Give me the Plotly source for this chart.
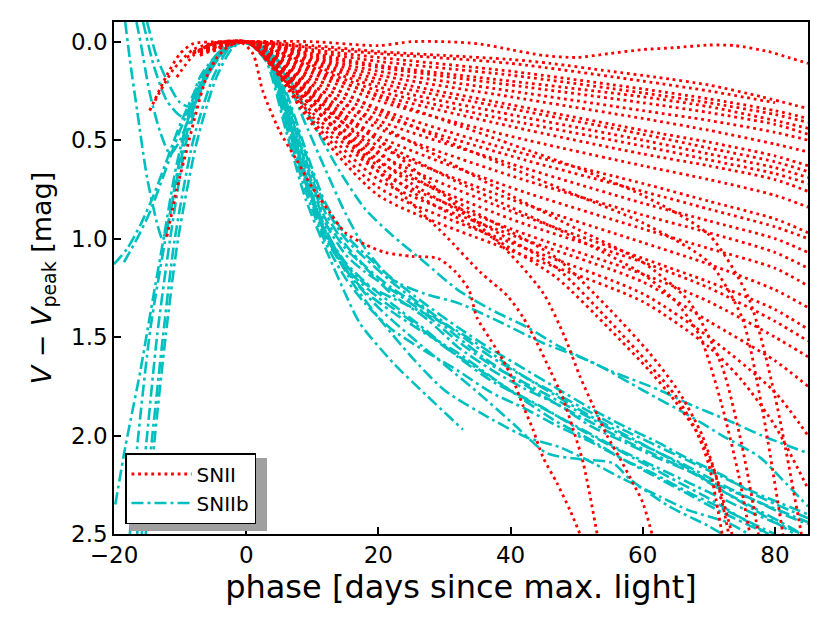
import plotly.graph_objects as go

# ---------------- SNII light curves (phase [d], V - Vpeak [mag]) ----------------
sn2_01 = [(-8,0.06),(-5,0.01),(0,0.0),(10,0.0),(20,0.02),(25,0.0),(30,0.0),(35,0.01),(40,0.04),(45,0.07),(50,0.08),(55,0.06),(60,0.04),(65,0.03),(70,0.017),(74,0.02),(79,0.05),(82,0.08),(85,0.11)]
sn2_02 = [(-6,0.03),(0,0),(10,0.02),(20,0.05),(30,0.07),(40,0.09),(46,0.11),(55,0.15),(62,0.18),(70,0.22),(78,0.28),(85,0.34)]
sn2_03 = [(-5,0.02),(0,0),(4,0.01),(10,0.04),(20,0.08),(40,0.15),(60,0.24),(70,0.29),(80,0.35),(85,0.39)]
sn2_04 = [(-7,0.05),(0,0),(4,0.02),(10,0.06),(20,0.12),(40,0.20),(60,0.28),(70,0.33),(80,0.40),(85,0.44)]
sn2_05 = [(-4,0.01),(0,0),(4,0.02),(10,0.08),(20,0.15),(40,0.25),(60,0.35),(70,0.40),(80,0.46),(85,0.50)]
sn2_06 = [(-6,0.04),(0,0),(4,0.03),(10,0.10),(20,0.19),(40,0.32),(60,0.45),(70,0.51),(80,0.58),(85,0.63)]
sn2_07 = [(-14.6,0.35),(-12,0.17),(-10,0.06),(-8,0.01),(-4,0),(0,0),(4,0.04),(10,0.12),(20,0.23),(40,0.37),(60,0.50),(70,0.57),(80,0.64),(85,0.69)]
sn2_08 = [(-5,0.03),(0,0),(4,0.05),(10,0.15),(20,0.27),(40,0.43),(60,0.57),(70,0.63),(80,0.70),(85,0.76)]
sn2_09 = [(-6,0.03),(0,0),(4,0.05),(10,0.16),(20,0.30),(40,0.48),(60,0.63),(70,0.70),(80,0.78),(85,0.84)]
sn2_10 = [(-4,0.02),(0,0),(4,0.06),(10,0.18),(20,0.34),(40,0.55),(60,0.72),(70,0.81),(80,0.90),(85,0.97)]
sn2_11 = [(-13.8,0.30),(-11,0.14),(-8,0.04),(-4,0),(0,0),(4,0.06),(10,0.20),(20,0.37),(40,0.58),(60,0.76),(70,0.85),(80,0.94),(85,1.00)]
sn2_12 = [(-3,0.01),(0,0),(4,0.07),(10,0.22),(20,0.40),(40,0.62),(60,0.82),(70,0.91),(80,1.00),(85,1.07)]
sn2_13 = [(-6,0.05),(0,0),(4,0.08),(10,0.24),(20,0.44),(40,0.68),(60,0.88),(70,0.97),(80,1.07),(85,1.15)]
sn2_14 = [(-5,0.03),(0,0),(4,0.08),(10,0.26),(20,0.48),(40,0.74),(60,0.95),(70,1.05),(80,1.15),(85,1.24)]
sn2_15 = [(-7,0.06),(0,0),(4,0.09),(10,0.29),(20,0.53),(40,0.80),(60,1.02),(70,1.13),(80,1.26),(85,1.35)]
sn2_16 = [(-4,0.02),(0,0),(4,0.10),(10,0.31),(20,0.57),(40,0.86),(60,1.10),(70,1.22),(80,1.36),(85,1.46)]
sn2_17 = [(-6,0.04),(0,0),(4,0.10),(10,0.33),(20,0.61),(40,0.90),(60,1.12),(70,1.25),(80,1.42),(85,1.52)]
sn2_18 = [(-5,0.02),(0,0),(4,0.11),(10,0.36),(20,0.66),(40,0.95),(60,1.18),(70,1.32),(80,1.50),(85,1.60)]
sn2_19 = [(-10.5,0.18),(-8,0.07),(-5,0.01),(0,0),(4,0.12),(10,0.38),(20,0.70),(40,0.98),(60,1.22),(70,1.42),(80,1.62),(85,1.75)]
sn2_20 = [(-5,0.03),(0,0),(4,0.12),(10,0.40),(20,0.74),(40,1.02),(60,1.28),(70,1.50),(80,1.78),(85,2.00)]
sn2_21 = [(-6,0.04),(0,0),(4,0.13),(10,0.42),(20,0.78),(40,1.06),(60,1.32),(70,1.55),(75,1.72),(80,1.95),(85,2.27)]
sn2_22 = [(-9,0.08),(-5,0.01),(0,0),(4,0.01),(10,0.03),(20,0.06),(40,0.11),(60,0.20),(70,0.25),(80,0.31)]
sn2_23 = [(-3,0.0),(0,0),(4,0.02),(10,0.05),(20,0.10),(40,0.17),(60,0.26),(70,0.31),(80,0.37),(85,0.41)]
sn2_24 = [(-7,0.04),(0,0),(4,0.02),(10,0.07),(20,0.13),(40,0.22),(60,0.31),(70,0.36),(80,0.42),(85,0.47)]
sn2_25 = [(-5,0.02),(0,0),(4,0.03),(10,0.09),(20,0.17),(40,0.28),(60,0.39),(70,0.45),(80,0.52),(85,0.56)]
sn2_26 = [(-8,0.05),(0,0),(4,0.04),(10,0.11),(20,0.21),(40,0.34),(60,0.47),(70,0.54),(80,0.61),(85,0.66)]
sn2_27 = [(-6,0.02),(0,0),(4,0.05),(10,0.13),(20,0.25),(40,0.40),(60,0.53),(70,0.60),(80,0.67),(85,0.72)]
# SNII that fall off the plateau
sn2_a = [(-12,0.99),(-10.5,0.75),(-9,0.55),(-7.5,0.35),(-6,0.18),(-4.4,0.08),(-2.9,0.03),(-1,0),(1,0.06),(2.5,0.25),(5,0.45),(7.6,0.6),(10,0.74),(12.7,0.87),(15,0.97),(18,1.03),(21,1.07),(25,1.09),(29,1.1),(31.7,1.17),(33.7,1.26),(34.9,1.40),(36.9,1.51),(38.9,1.62),(40.4,1.72),(41.9,1.85),(43.4,1.97),(44.9,2.11),(47,2.24),(49,2.38),(50.5,2.5)]
sn2_b = [(-5,0.05),(0,0),(5,0.15),(10,0.33),(15,0.5),(20,0.66),(25,0.82),(30,0.98),(35.4,1.17),(39.5,1.29),(41.9,1.4),(44,1.53),(46,1.67),(47.8,1.8),(49.4,1.96),(51,2.14),(53.1,2.5)]
sn2_c = [(-6,0.04),(0,0),(10,0.25),(20,0.5),(30,0.78),(40,1.08),(45,1.28),(48.2,1.5),(50.5,1.70),(52.5,1.85),(54.6,2.0),(56.6,2.12),(58.5,2.24),(60,2.34),(61.4,2.5)]
sn2_d1 = [(-5,0.03),(0,0),(5,0.15),(10,0.3),(17,0.52),(25,0.72),(37,0.95),(47,1.15),(55,1.42),(61,1.64),(65,1.8),(68,1.97),(70,2.15),(72,2.5)]
sn2_d2 = [(-7,0.07),(0,0),(5,0.17),(10,0.33),(17,0.55),(25,0.76),(37,0.99),(47,1.2),(55,1.46),(61,1.67),(65,1.83),(68.5,2.0),(71,2.2),(73,2.5)]
sn2_d3 = [(-4,0.02),(0,0),(5,0.13),(10,0.27),(17,0.48),(25,0.68),(37,0.91),(47,1.1),(55,1.36),(61,1.58),(65.5,1.78),(69,2.0),(71.5,2.25),(73.5,2.5)]
sn2_e1 = [(-5,0.02),(0,0),(10,0.28),(20,0.5),(30,0.68),(40,0.84),(50,1.0),(60,1.18),(65,1.32),(68.7,1.5),(72,1.85),(74.5,2.2),(76.2,2.5)]
sn2_e2 = [(-6,0.03),(0,0),(10,0.22),(20,0.42),(30,0.6),(40,0.78),(50,0.95),(60,1.12),(67,1.32),(72,1.65),(75,2.05),(77.5,2.5)]
sn2_e3 = [(-4,0.02),(0,0),(10,0.18),(20,0.35),(30,0.5),(40,0.64),(50,0.78),(60,0.92),(70,1.12),(75,1.4),(78,1.85),(81.2,2.5)]
sn2_e4 = [(-5,0.03),(0,0),(10,0.14),(20,0.28),(30,0.4),(40,0.52),(50,0.64),(60,0.78),(70,0.98),(76,1.3),(80,1.8),(84,2.5)]

# ---------------- SNIIb light curves ----------------
sn2b_01 = [(-19.8,2.35),(-18.3,2.06),(-16,1.67),(-14.5,1.38),(-12.5,1.0),(-10.5,0.62),(-8,0.3),(-5,0.1),(-2,0.01),(0,0),(3,0.05),(6,0.3),(9,0.62),(12,0.9),(15,1.05),(17.2,1.12),(22,1.28),(27.4,1.41),(32,1.55),(37.3,1.67),(42,1.76),(47.5,1.85),(52,1.95),(57.6,2.04),(62,2.11),(67.6,2.19),(72,2.26),(77.7,2.34),(85,2.44)]
sn2b_02 = [(-17.6,2.5),(-16.5,2.06),(-14.5,1.46),(-12,0.96),(-9.6,0.52),(-7,0.18),(-3,0.02),(0,0),(3,0.03),(6,0.18),(9,0.42),(12,0.65),(15,0.87),(18,1.05),(22.2,1.21),(27,1.28),(32.3,1.33),(38.8,1.43),(44.9,1.53),(52.5,1.63),(60,1.77),(67.6,1.91),(72,2.0),(77.7,2.11),(81,2.22),(85,2.36)]
sn2b_03 = [(-16.5,2.5),(-15,2.0),(-13.5,1.5),(-11.5,1.0),(-9,0.5),(-6,0.18),(-3,0.03),(0,0),(3,0.06),(6,0.35),(9,0.68),(12,0.96),(15,1.12),(18,1.22),(22,1.33),(27,1.46),(32,1.6),(37,1.72),(42,1.81),(47,1.9),(52,1.99),(57,2.08),(62,2.16),(67,2.24),(72,2.32),(77,2.4),(82,2.47),(84,2.5)]
sn2b_04 = [(-15.8,2.5),(-14.2,2.0),(-12.6,1.5),(-10.8,1.0),(-8,0.5),(-5,0.18),(-2.5,0.03),(0,0),(3,0.04),(6,0.27),(9,0.57),(12,0.84),(15,1.0),(18,1.1),(22,1.22),(27,1.35),(32,1.48),(37,1.6),(42,1.7),(47,1.79),(52,1.88),(57,1.97),(62,2.05),(67,2.13),(72,2.21),(77,2.29),(85,2.40)]
sn2b_05 = [(-15.2,2.5),(-13.8,2.0),(-12.2,1.5),(-10.3,1.0),(-7.4,0.5),(-4.5,0.18),(-2,0.03),(0,0),(3,0.1),(6,0.45),(9,0.8),(12,1.05),(15,1.28),(17.2,1.43),(22.2,1.63),(27.4,1.8),(32.8,1.97)]
sn2b_06 = [(-20,1.13),(-18,1.05),(-16,0.93),(-14,0.78),(-12,0.6),(-10,0.42),(-7,0.2),(-4,0.05),(-1,0),(2,0.02),(5,0.1),(8,0.28),(11,0.47),(14,0.65),(18,0.85),(22,0.98),(27,1.12),(32,1.26),(37,1.36),(42.5,1.45),(47.5,1.55),(55,1.67),(62.6,1.77),(67,1.84),(72.7,1.92),(78,2.0),(85,2.09)]
sn2b_07 = [(-18.5,1.12),(-16.5,1.0),(-14.5,0.86),(-12.5,0.68),(-10,0.45),(-7,0.22),(-4,0.06),(-1,0),(3,0.07),(6,0.4),(9,0.72),(12,0.98),(15,1.15),(18,1.27),(22,1.37),(27,1.48),(32,1.58),(37,1.7),(42,1.82),(47,1.93),(52,2.02),(57,2.12),(62,2.21),(67,2.3),(72,2.39),(77,2.47),(79,2.5)]
sn2b_08 = [(-18.3,-0.1),(-17.6,0.09),(-16.5,0.35),(-15,0.69),(-13.5,0.92),(-12.7,1.0),(-12,0.95),(-10.5,0.7),(-8.5,0.4),(-6,0.15),(-3,0.03),(0,0),(3,0.06),(6,0.35),(9,0.7),(12,0.98),(16,1.22),(20,1.4),(25,1.6),(30,1.77),(37.3,1.92),(42.5,2.01),(47.5,2.06),(52.5,2.14),(57,2.22),(62.6,2.31),(67,2.38),(72.7,2.44),(76,2.5)]
sn2b_09 = [(-16.6,-0.1),(-16,0.0),(-14.6,0.26),(-13,0.46),(-11.5,0.57),(-10,0.5),(-8,0.32),(-6,0.16),(-3,0.03),(0,0),(3,0.05),(6,0.33),(9,0.64),(12,0.92),(15,1.08),(18,1.17),(22,1.26),(27,1.38),(32,1.52),(37,1.64),(42,1.73),(47,1.82),(52,1.91),(57,2.0),(62,2.08),(67,2.16),(72,2.25),(77,2.33),(82,2.41),(85,2.45)]
sn2b_10 = [(-15.6,-0.1),(-14,0.12),(-12,0.30),(-9.7,0.38),(-8,0.33),(-6,0.18),(-3,0.04),(0,0),(3,0.07),(6,0.38),(9,0.72),(12,1.0),(16,1.2),(20,1.35),(25,1.5),(30,1.64),(35,1.78),(40.4,1.94),(45.5,2.09),(50.5,2.12),(55.5,2.14),(58,2.22),(64,2.36),(70,2.46),(72,2.5)]
sn2b_11 = [(-15,-0.1),(-13.5,0.08),(-11.5,0.23),(-10,0.31),(-8.5,0.33),(-6.5,0.22),(-4,0.07),(-1,0),(3,0.06),(6,0.36),(9,0.7),(12,0.97),(15,1.13),(18,1.23),(22,1.3),(27,1.38),(32,1.47),(37,1.58),(42,1.7),(47,1.8),(52,1.9),(57,1.99),(62,2.08),(67,2.17),(72,2.28),(77,2.38),(83,2.5)]
sn2b_12 = [(0,0),(3,0.04),(6,0.25),(9,0.55),(12,0.82),(15,0.98),(18,1.08),(22,1.2),(27,1.33),(32,1.45),(37,1.56),(42,1.66),(47,1.76),(52,1.86),(57,1.95),(62,2.03),(67,2.12),(72,2.2),(77,2.3),(85,2.42)]
sn2b_13 = [(0,0),(3,0.08),(6,0.42),(9,0.76),(12,1.02),(15,1.2),(18,1.33),(22,1.46),(27,1.57),(32,1.67),(37,1.78),(42,1.86),(47,1.95),(52,2.03),(57,2.12),(62,2.2),(67,2.29),(72,2.37),(78,2.47),(80,2.5)]
sn2b_14 = [(0,0),(3,0.05),(6,0.3),(9,0.6),(12,0.87),(15,1.03),(18,1.14),(22,1.25),(27,1.36),(32,1.5),(37,1.63),(42,1.74),(47,1.84),(52,1.93),(57,2.02),(62,2.1),(67,2.18),(72,2.28),(77,2.37),(82,2.46),(84,2.5)]
sn2b_15 = [(1,0),(4,0.12),(7,0.45),(10,0.78),(13,1.02),(16,1.18),(20,1.3),(25,1.42),(30,1.55),(35,1.66),(40,1.77),(45,1.86),(50,1.96),(55,2.05),(60,2.14),(65,2.23),(70,2.32),(75,2.42),(79,2.5)]

SNII_CURVES = [sn2_01, sn2_02, sn2_03, sn2_04, sn2_05, sn2_06, sn2_07, sn2_08, sn2_09,
               sn2_10, sn2_11, sn2_12, sn2_13, sn2_14, sn2_15, sn2_16, sn2_17, sn2_18,
               sn2_19, sn2_20, sn2_21, sn2_22, sn2_23, sn2_24, sn2_25, sn2_26, sn2_27,
               sn2_a, sn2_b, sn2_c, sn2_d1, sn2_d2, sn2_d3, sn2_e1, sn2_e2, sn2_e3, sn2_e4]
SNIIB_CURVES = [sn2b_01, sn2b_02, sn2b_03, sn2b_04, sn2b_05, sn2b_06, sn2b_07, sn2b_08,
                sn2b_09, sn2b_10, sn2b_11, sn2b_12, sn2b_13, sn2b_14, sn2b_15]

x_tick_vals = [-20, 0, 20, 40, 60, 80]
x_tick_text = ["\u221220", "0", "20", "40", "60", "80"]
y_tick_vals = [0.0, 0.5, 1.0, 1.5, 2.0, 2.5]
y_tick_text = ["0.0", "0.5", "1.0", "1.5", "2.0", "2.5"]

RED = "#ff0000"
CYAN = "#00bfbf"
FONT = "DejaVu Sans"

fig = go.Figure()

for i, c in enumerate(SNIIB_CURVES):
    fig.add_trace(go.Scatter(
        x=[p[0] for p in c], y=[p[1] for p in c], mode="lines",
        line=dict(color=CYAN, width=2.6, dash="12px,4px,3px,4px", shape="spline", smoothing=0.7),
        name="SNIIb", legendgroup="b", showlegend=(i == 0), legendrank=2, hoverinfo="skip"))

for i, c in enumerate(SNII_CURVES):
    fig.add_trace(go.Scatter(
        x=[p[0] for p in c], y=[p[1] for p in c], mode="lines",
        line=dict(color=RED, width=2.8, dash="2.8px,3.8px", shape="spline", smoothing=0.7),
        name="SNII", legendgroup="a", showlegend=(i == 0), legendrank=1, hoverinfo="skip"))

# page offset of the figure inside the browser window (default body margin)
OFF = 8
W, H = 830, 623
L, R, T, B = 114 - OFF, 30, 22 - OFF, 97
pw, ph = W - L - R, H - T - B

def px2paper(x, y):
    # x, y are window pixel positions
    return (x - OFF - L) / pw, (H - B - (y - OFF)) / ph

# legend drop shadow
sx0, sy0 = px2paper(130, 531)
sx1, sy1 = px2paper(267, 458)
fig.add_shape(type="rect", xref="paper", yref="paper", x0=sx0, y0=sy0, x1=sx1, y1=sy1,
              fillcolor="#a0a0a0", line=dict(width=0), layer="above")

lx, ly = px2paper(125, 453)

fig.update_layout(
    width=W, height=H,
    margin=dict(l=L, r=R, t=T, b=B, autoexpand=False),
    paper_bgcolor="white", plot_bgcolor="white",
    font=dict(family=FONT, color="black"),
    showlegend=True,
    legend=dict(x=lx, y=ly, xanchor="left", yanchor="top", bgcolor="white",
                bordercolor="black", borderwidth=1.5, font=dict(size=20, family=FONT),
                itemwidth=60, tracegroupgap=0),
    xaxis=dict(range=[-20, 85], tickvals=x_tick_vals, ticktext=x_tick_text, automargin=False,
               ticks="inside", ticklen=7, tickwidth=1.5, tickcolor="black",
               showline=True, linecolor="black", linewidth=1.5, mirror=True,
               showgrid=False, zeroline=False, tickfont=dict(size=23),
               title=dict(text="phase [days since max. light]", font=dict(size=32), standoff=4)),
    yaxis=dict(range=[2.5, -0.1], tickvals=y_tick_vals, ticktext=y_tick_text, automargin=False,
               ticks="inside", ticklen=7, tickwidth=1.5, tickcolor="black",
               showline=True, linecolor="black", linewidth=1.5, mirror=True,
               showgrid=False, zeroline=False, tickfont=dict(size=23),
               title=dict(text="<i>V</i> \u2212 <i>V</i><sub>peak</sub> [mag]", font=dict(size=27), standoff=12)),
)

fig.write_html("out.html")
